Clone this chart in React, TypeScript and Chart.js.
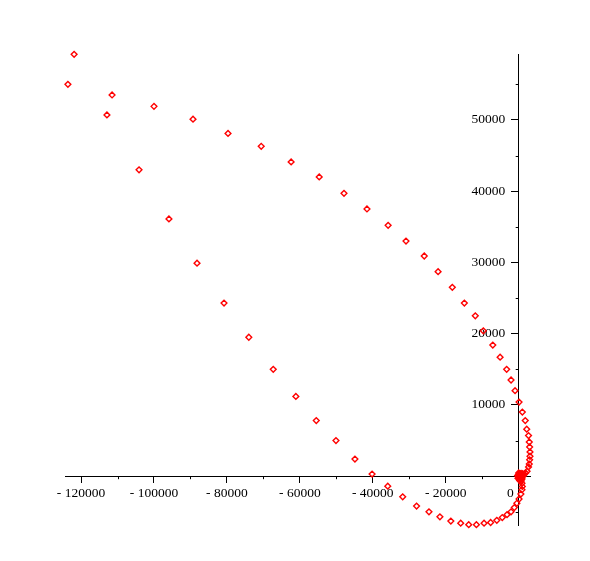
import React, { useEffect, useRef } from "react";
import { Chart, registerables } from "chart.js";

Chart.register(...registerables);

// Upper arc (ends at the top-left, passes right of the y-axis near the origin)
const arcAX = [
  -123600, -111500, -100000, -89300, -79700, -70600, -62400, -54700, -47900, -41600,
  -35800, -30900, -25900, -22100, -18200, -14900, -11900, -9700, -7100, -5100,
  -3300, -2100, -1000, 100, 1000, 1800, 2200, 2700, 2900, 3000,
  3100, 3100, 3000, 2900, 2700, 2300, 1900, 1500, 1100, 700, 400, 270, 140,
];
const arcAY = [
  55000, 53500, 51900, 50100, 48100, 46300, 44100, 42000, 39700, 37500,
  35200, 33000, 30900, 28700, 26500, 24300, 22500, 20400, 18400, 16700,
  15000, 13500, 12000, 10400, 9000, 7800, 6600, 5700, 4800, 4100,
  3400, 2800, 2300, 1700, 1300, 700, 460, 250, 100, -30, -100, -170, -170,
];

// Lower arc (starts at the top-left, dips below the x-axis, returns to the origin)
const arcBX = [
  -121900, -112900, -104100, -95900, -88200, -80800, -74000, -67300, -61100, -55500,
  -50100, -44900, -40200, -35900, -31800, -28000, -24600, -21600, -18600, -15900,
  -13700, -11600, -9500, -7700, -6000, -4500, -3200, -2100, -1200, -500,
  100, 600, 900, 1000, 900, 700, 550, 400,
];
const arcBY = [
  59200, 50700, 43000, 36100, 29900, 24300, 19500, 15000, 11200, 7800,
  5000, 2400, 300, -1400, -2900, -4200, -5000, -5700, -6300, -6600,
  -6800, -6800, -6600, -6500, -6200, -5800, -5400, -5000, -4400, -3800,
  -3200, -2500, -1900, -1430, -1000, -660, -450, -300,
];

// Dense cluster at the origin
const coreX = [0, 150, 300, 450, 600, 800, 1000, -100, 200, 500, 700, 900, 350, 650, -300, -200, 1200, 1100, 0, 250];
const coreY = [0, -100, 150, -250, 50, -350, 200, -50, 350, 300, -150, -400, -500, 400, 100, -300, 0, 350, 450, -600];

// Axis ticks
const xMajorTicks = [-120000, -100000, -80000, -60000, -40000, -20000, 0];
const xMinorTicks = [-110000, -90000, -70000, -50000, -30000, -10000];
const yMajorTicks = [10000, 20000, 30000, 40000, 50000];
const yMinorTicks = [-5000, 5000, 15000, 25000, 35000, 45000, 55000];

const X_MIN = -124400;
const X_MAX = 3100;
const Y_MIN = -6850;
const Y_MAX = 59250;

const toPoints = (xs: number[], ys: number[]) => xs.map((x, i) => ({ x, y: ys[i] }));

const fmtX = (v: number) => {
  if (v === 0) return "0     ";
  if (v < 0) return "- " + String(Math.abs(v));
  return String(v);
};

// y labels are right-aligned on the axis line; trailing spaces leave a gap before it
const fmtY = (v: number) => String(v) + "    ";

const minorTicksPlugin = {
  id: "minorTicks",
  afterDraw(chart: any) {
    const xs = chart.scales.x;
    const ys = chart.scales.y;
    const ctx = chart.ctx;
    const y0 = ys.getPixelForValue(0);
    const x0 = xs.getPixelForValue(0);
    ctx.save();
    ctx.strokeStyle = "#000";
    ctx.lineWidth = 1;
    ctx.beginPath();
    xMinorTicks.forEach((v) => {
      const px = Math.round(xs.getPixelForValue(v)) + 0.5;
      ctx.moveTo(px, y0);
      ctx.lineTo(px, y0 + 3);
    });
    yMinorTicks.forEach((v) => {
      const py = Math.round(ys.getPixelForValue(v)) + 0.5;
      ctx.moveTo(x0 - 3, py);
      ctx.lineTo(x0, py);
    });
    ctx.stroke();
    ctx.restore();
  },
};

export default function App() {
  const canvasRef = useRef<HTMLCanvasElement | null>(null);

  useEffect(() => {
    document.body.style.margin = "0";
    const canvas = canvasRef.current;
    if (!canvas) return;
    const pointStyle = {
      pointStyle: "rectRot" as const,
      pointRadius: 2.9,
      pointBorderWidth: 1.4,
      pointBorderColor: "#ff0000",
      pointBackgroundColor: "rgba(255,255,255,0)",
      showLine: false,
      clip: false as const,
    };
    const chart = new Chart(canvas, {
      type: "scatter",
      data: {
        datasets: [
          { label: "arcB", data: toPoints(arcBX, arcBY), ...pointStyle },
          { label: "arcA", data: toPoints(arcAX, arcAY), ...pointStyle },
          { label: "core", data: toPoints(coreX, coreY), ...pointStyle },
        ],
      },
      options: {
        animation: false,
        responsive: false,
        maintainAspectRatio: false,
        layout: { padding: { left: 65, top: 54, right: 60, bottom: 36 } },
        plugins: {
          legend: { display: false },
          tooltip: { enabled: false },
        },
        scales: {
          x: {
            type: "linear",
            min: X_MIN,
            max: X_MAX,
            position: { y: 0 } as any,
            afterBuildTicks: (scale: any) => {
              scale.ticks = xMajorTicks.map((v) => ({ value: v }));
            },
            grid: {
              display: true,
              drawOnChartArea: false,
              drawTicks: true,
              tickLength: 6,
              tickColor: "#000",
              color: "#000",
            },
            border: { display: true, color: "#000", width: 1 },
            ticks: {
              color: "#000",
              padding: 3,
              maxRotation: 0,
              autoSkip: false,
              font: { family: "'Liberation Serif', 'Times New Roman', serif", size: 13.5 },
              callback: (v: any) => fmtX(Number(v)),
            },
          },
          y: {
            type: "linear",
            min: Y_MIN,
            max: Y_MAX,
            position: { x: 0 } as any,
            afterBuildTicks: (scale: any) => {
              scale.ticks = yMajorTicks.map((v) => ({ value: v }));
            },
            grid: {
              display: true,
              drawOnChartArea: false,
              drawTicks: true,
              tickLength: 7,
              tickColor: "#000",
              color: "#000",
            },
            border: { display: true, color: "#000", width: 1 },
            ticks: {
              color: "#000",
              padding: 5,
              autoSkip: false,
              font: { family: "'Liberation Serif', 'Times New Roman', serif", size: 13.5 },
              callback: (v: any) => fmtY(Number(v)),
            },
          },
        },
      },
      plugins: [minorTicksPlugin],
    });
    return () => chart.destroy();
  }, []);

  return (
    <div style={{ position: "fixed", left: 0, top: 0, width: 590, height: 561, background: "#fff" }}>
      <canvas ref={canvasRef} width={590} height={561} />
    </div>
  );
}
